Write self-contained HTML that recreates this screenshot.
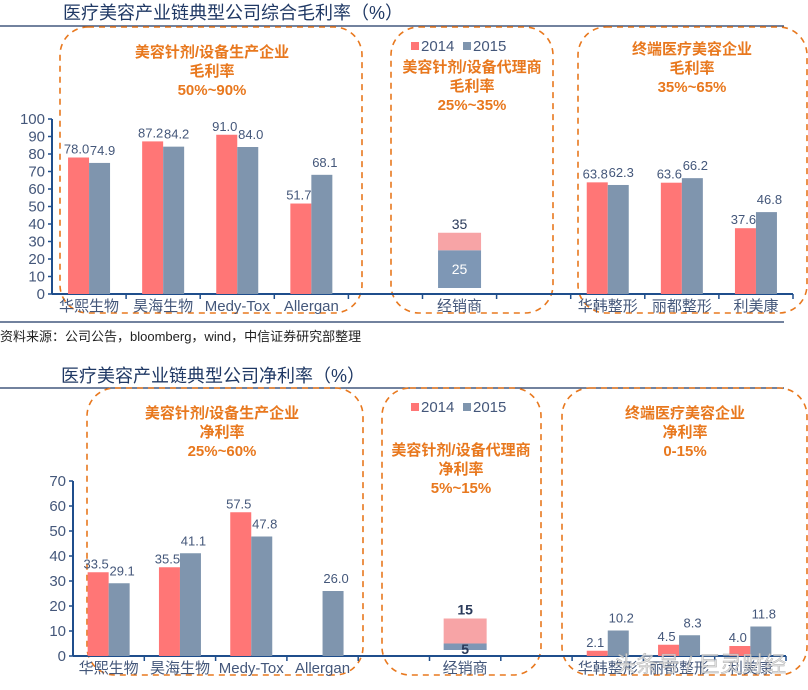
<!DOCTYPE html>
<html><head><meta charset="utf-8"><style>
body{margin:0;width:808px;height:685px;background:#fff;overflow:hidden;font-family:"Liberation Sans","Noto Sans CJK SC",sans-serif}
svg text{font-family:"Liberation Sans","Noto Sans CJK SC",sans-serif}
</style></head><body>
<svg id="s" width="808" height="685"></svg>
<script>
const cats1=["华熙生物","昊海生物","Medy-Tox","Allergan","","经销商","","华韩整形","丽都整形","利美康"];
const gross14=[78.0,87.2,91.0,51.7,null,null,null,63.8,63.6,37.6];
const gross15=[74.9,84.2,84.0,68.1,null,null,null,62.3,66.2,46.8];
const grossDealer=[25,35];
const ticks1=[0,10,20,30,40,50,60,70,80,90,100];
const cats2=["华熙生物","昊海生物","Medy-Tox","Allergan","","经销商","","华韩整形","丽都整形","利美康"];
const net14=[33.5,35.5,57.5,null,null,null,null,2.1,4.5,4.0];
const net15=[29.1,41.1,47.8,26.0,null,null,null,10.2,8.3,11.8];
const netDealer=[5,15];
const ticks2=[0,10,20,30,40,50,60,70];

const S=document.getElementById('s');const NS="http://www.w3.org/2000/svg";
function mk(t,a,txt){const e=document.createElementNS(NS,t);for(const k in a)e.setAttribute(k,a[k]);if(txt!=null)e.textContent=txt;S.appendChild(e);return e;}
const PINK="#FF7676",BLUE="#7F95AE",LBL="#44577A",ORG="#E8781E",AX="#1F4E8C";

function chart(o){
  const y=v=>o.y0-(v/o.max)*(o.y0-o.yTop);
  const sw=o.sw;
  o.boxes.forEach((b,i)=>{const r=mk('rect',{x:b[0],y:b[1],width:b[2]-b[0],height:b[3]-b[1],rx:28,fill:'none',stroke:ORG,'stroke-width':1.6,'stroke-dasharray':'6,5'});
    });
  const ya=mk('line',{x1:o.x0,y1:o.y0,x2:o.x0,y2:o.yTop,stroke:AX,'stroke-width':2});
  
  o.ticks.forEach(t=>{mk('line',{x1:o.x0-4,y1:y(t),x2:o.x0,y2:y(t),stroke:AX,'stroke-width':1.5});
    const tl=mk('text',{x:o.x0-7,y:y(t)+5,'text-anchor':'end','font-size':15,fill:LBL},t);
    });
  const xa=mk('line',{x1:o.x0,y1:o.y0,x2:o.x0+sw*o.cats.length,y2:o.y0,stroke:AX,'stroke-width':2});
  
  o.cats.forEach((c,i)=>{mk('line',{x1:o.x0+sw*(i+1),y1:o.y0,x2:o.x0+sw*(i+1),y2:o.y0+5,stroke:AX,'stroke-width':1.5});
    if(c){const tl=mk('text',{x:o.x0+sw*(i+.5),y:o.y0+17,'text-anchor':'middle','font-size':15,fill:LBL},c);
      }
    const cx=o.x0+sw*(i+.5),bw=21;
    [[o.s14[i],cx-bw,PINK,'2014'],[o.s15[i],cx,BLUE,'2015']].forEach(([v,bx,col,yr],k)=>{
      if(v==null)return;
      const r=mk('rect',{x:bx,y:y(v),width:bw,height:o.y0-y(v),fill:col});
      
      const t=mk('text',{x:bx+bw/2+(k?3:-2),y:y(v)-(k?8:4),'text-anchor':'middle','font-size':13,fill:LBL},v.toFixed(1));
      
    });
  });
  const di=5,dx=o.x0+sw*(di+.5)-21.5;
  const b1=mk('rect',{x:dx,y:y(o.dealer[0]),width:43,height:y(0)-y(o.dealer[0])-6,fill:'#7E97B5'});
  
  const b2=mk('rect',{x:dx,y:y(o.dealer[1]),width:43,height:y(o.dealer[0])-y(o.dealer[1]),fill:'#F7A4A6'});
  
  const t1=mk('text',{x:dx+21.5,y:y(o.dealer[1])-4,'text-anchor':'middle','font-size':14,'font-weight':o.boldD?'bold':'normal',fill:'#2A3A5A'},o.dealer[1]);
  
  const t2=mk('text',{x:dx+21.5,y:o.boldD?y(0)-2:(y(0)+y(o.dealer[0]))/2+2,'text-anchor':'middle','font-size':14,'font-weight':o.boldD?'bold':'normal',fill:o.boldD?'#2A3A5A':'#fff'},o.dealer[0]);
  
  mk('rect',{x:o.lx,y:o.ly-9,width:8,height:8,fill:PINK});
  const l1=mk('text',{x:o.lx+10,y:o.ly,'font-size':15,fill:LBL},'2014');
  mk('rect',{x:o.lx+52,y:o.ly-9,width:8,height:8,fill:BLUE});
  const l2=mk('text',{x:o.lx+62,y:o.ly,'font-size':15,fill:LBL},'2015');
  o.notes.forEach((n,i)=>{n[2].forEach((line,j)=>{const t=mk('text',{x:n[0],y:n[1]+j*19,'text-anchor':'middle','font-size':15,'font-weight':'bold',fill:ORG},line);
    });});
}

let t=mk('text',{x:233,y:19,'text-anchor':'middle','font-size':18,fill:'#1F3864'},'医疗美容产业链典型公司综合毛利率（%）');

mk('line',{x1:0,y1:26,x2:784,y2:26,stroke:'#1F3864','stroke-width':1.2});
t=mk('text',{x:0,y:341,'font-size':13,fill:'#222'},'资料来源：公司公告，bloomberg，wind，中信证券研究部整理');

mk('line',{x1:0,y1:322,x2:784,y2:322,stroke:'#1F3864','stroke-width':1.2});
t=mk('text',{x:213,y:382,'text-anchor':'middle','font-size':18,fill:'#1F3864'},'医疗美容产业链典型公司净利率（%）');

mk('line',{x1:0,y1:388,x2:784,y2:388,stroke:'#1F3864','stroke-width':1.2});

chart({id:'gross',x0:52,y0:294,yTop:119,max:100,sw:74.1,ticks:ticks1,cats:cats1,s14:gross14,s15:gross15,dealer:grossDealer,boldD:false,
  lx:411,ly:51,boxes:[[60,27,362,313],[391,27,553,313],[578,27,807,313]],
  notes:[[212,57,['美容针剂/设备生产企业','毛利率','50%~90%']],[472,72,['美容针剂/设备代理商','毛利率','25%~35%']],[692,54,['终端医疗美容企业','毛利率','35%~65%']]]});
chart({id:'net',x0:73,y0:656,yTop:481,max:70,sw:71.3,ticks:ticks2,cats:cats2,s14:net14,s15:net15,dealer:netDealer,boldD:true,
  lx:411,ly:412,boxes:[[87,388,363,675],[382,388,541,675],[562,388,807,675]],
  notes:[[222,418,['美容针剂/设备生产企业','净利率','25%~60%']],[461,455,['美容针剂/设备代理商','净利率','5%~15%']],[685,418,['终端医疗美容企业','净利率','0-15%']]]});
t=mk('text',{x:700,y:672,'text-anchor':'middle','font-size':22,fill:'#ddd',opacity:0.85,stroke:'#999','stroke-width':0.4},'头条号 / 巨灵财经');

</script>
</body></html>
